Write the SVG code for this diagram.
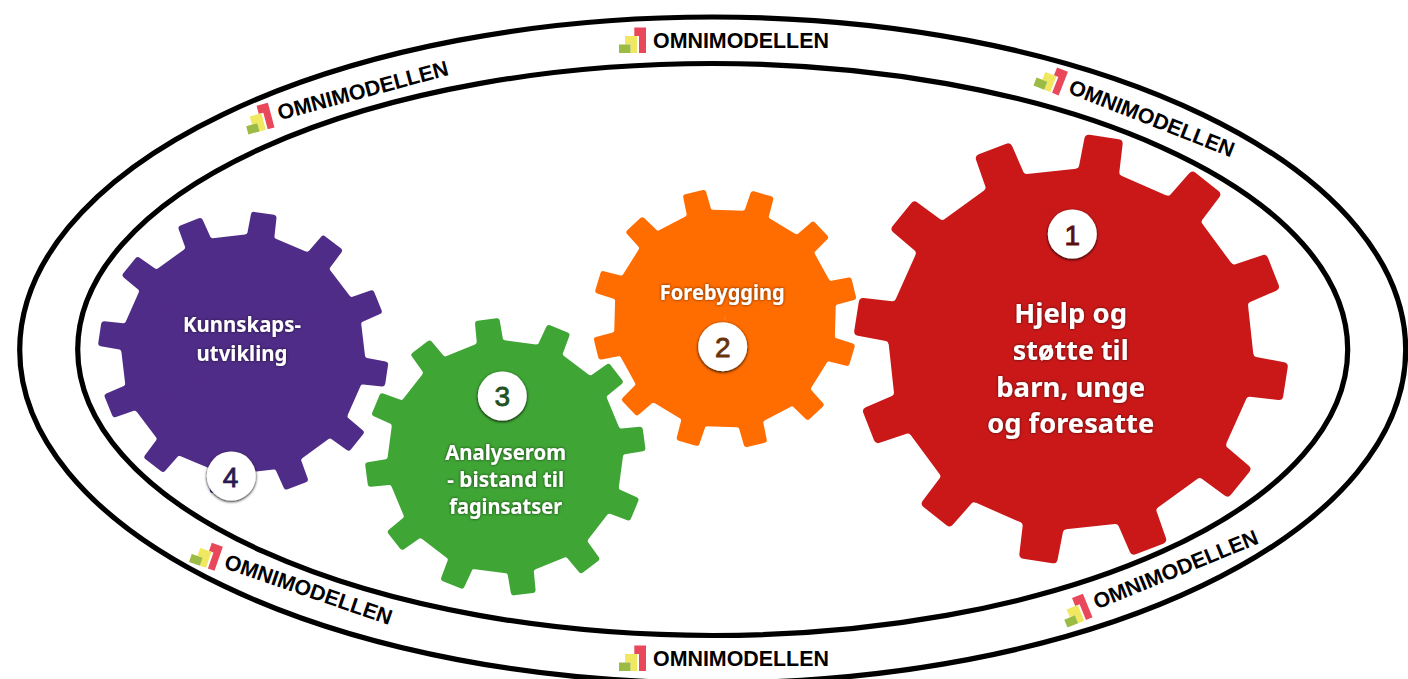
<svg xmlns="http://www.w3.org/2000/svg" width="1408" height="679" viewBox="0 0 1408 679">
<style>
.ring{fill:none;stroke:#000;stroke-width:5.2}
.om{font-family:"Liberation Sans",Arial,sans-serif;font-weight:700;font-size:21.4px;fill:#000}
.t{font-family:"Noto Sans",Lato,sans-serif;font-weight:700;fill:#fff;text-anchor:middle;filter:url(#glow)}
.c{fill:#fff;filter:url(#cs)}
.n{font-family:"Liberation Sans",Arial,sans-serif;font-size:28px;text-anchor:middle;stroke-width:.8}
</style>
<defs>
<filter id="glow" x="-20%" y="-30%" width="140%" height="160%"><feDropShadow dx="0" dy="0" stdDeviation="1.6" flood-color="#000" flood-opacity=".65"/></filter>
<filter id="cs" x="-30%" y="-30%" width="160%" height="160%"><feDropShadow dx="0" dy="1" stdDeviation="1.8" flood-color="#000" flood-opacity="1"/></filter>
<path id="tooth" d="M0 0L-10.6-83.4Q-9.5-83.7-9.4-84.9L-8.9-98Q-8.8-100-6.8-100L6.8-100Q8.8-100 8.9-98L9.4-84.9Q9.5-83.7 10.6-83.4L33.6-77.2L42-55Z"/>
<g id="gear">
<use href="#tooth"/><use href="#tooth" transform="rotate(30)"/><use href="#tooth" transform="rotate(60)"/><use href="#tooth" transform="rotate(90)"/><use href="#tooth" transform="rotate(120)"/><use href="#tooth" transform="rotate(150)"/><use href="#tooth" transform="rotate(180)"/><use href="#tooth" transform="rotate(210)"/><use href="#tooth" transform="rotate(240)"/><use href="#tooth" transform="rotate(270)"/><use href="#tooth" transform="rotate(300)"/><use href="#tooth" transform="rotate(330)"/>
</g>
<g id="logo">
<path fill="#E8485A" d="M15.3-25.5H27V0H20V-17H15.3Z"/>
<path fill="#EFE860" d="M6-17H18V0H11.5V-8.5H6Z"/>
<path fill="#9BBB45" d="M0-8.5H11.5V0H0Z"/>
</g>
</defs>
<rect width="1408" height="679" fill="#fff"/>
<g id="connectors">
<ellipse class="ring" cx="712.7" cy="350" rx="693" ry="333"/>
<ellipse class="ring" cx="712.7" cy="349.5" rx="635" ry="286"/>
</g>
<g id="label-top" transform="translate(619 53)"><use href="#logo"/><text class="om" x="34" y="-5.5">OMNIMODELLEN</text></g>
<g id="label-upper-left" transform="translate(248.4 134.4) rotate(-15)"><use href="#logo"/><text class="om" x="34" y="-5.5">OMNIMODELLEN</text></g>
<g id="label-upper-right" transform="translate(1033.5 85.5) rotate(21.5)"><use href="#logo"/><text class="om" x="34" y="-5.5">OMNIMODELLEN</text></g>
<g id="label-lower-left" transform="translate(189 562) rotate(19)"><use href="#logo"/><text class="om" x="34" y="-5.5">OMNIMODELLEN</text></g>
<g id="label-lower-right" transform="translate(1067.5 627.5) rotate(-22.2)"><use href="#logo"/><text class="om" x="34" y="-5.5">OMNIMODELLEN</text></g>
<g id="label-bottom" transform="translate(619 671)"><use href="#logo"/><text class="om" x="34" y="-5.5">OMNIMODELLEN</text></g>
<g id="gear-4">
<use href="#gear" fill="#4F2C87" transform="translate(243.2 353.8) scale(1.45 1.42) rotate(8.3)"/>
<text class="t" font-size="21" x="242" y="332.3" textLength="118" lengthAdjust="spacingAndGlyphs">Kunnskaps-</text>
<text class="t" font-size="21" x="242" y="360.7" textLength="91" lengthAdjust="spacingAndGlyphs">utvikling</text>
<circle class="c" cx="231.3" cy="476" r="24.5"/>
<text class="n" fill="#2A1A50" stroke="#2A1A50" x="230.5" y="487">4</text>
</g>
<g id="gear-3">
<use href="#gear" fill="#3FA535" transform="translate(505.3 456.8) scale(1.4 1.385) rotate(22.5)"/>
<text class="t" font-size="21" x="505.7" y="460" textLength="121" lengthAdjust="spacingAndGlyphs">Analyserom</text>
<text class="t" font-size="21" x="505.7" y="487.3" textLength="117" lengthAdjust="spacingAndGlyphs">- bistand til</text>
<text class="t" font-size="21" x="505.7" y="514" textLength="113" lengthAdjust="spacingAndGlyphs">faginsatser</text>
<circle class="c" cx="502.3" cy="396" r="24.5"/>
<text class="n" fill="#1F5020" stroke="#1F5020" x="502.3" y="406">3</text>
</g>
<g id="gear-2">
<use href="#gear" fill="#FF6C00" transform="translate(725 318.5) scale(1.325 1.3) rotate(16.5)"/>
<text class="t" font-size="21" x="722.3" y="300" textLength="125" lengthAdjust="spacingAndGlyphs">Forebygging</text>
<circle class="c" cx="722.7" cy="346.7" r="24.5"/>
<text class="n" fill="#6A3208" stroke="#6A3208" x="722.7" y="356.7">2</text>
</g>
<g id="gear-1">
<use href="#gear" fill="#CA1819" transform="translate(1071 349) scale(2.17 2.145) rotate(8.8)"/>
<text class="t" font-size="27" x="1070.7" y="322.7" textLength="113" lengthAdjust="spacingAndGlyphs">Hjelp og</text>
<text class="t" font-size="27" x="1070.7" y="360" textLength="116" lengthAdjust="spacingAndGlyphs">støtte til</text>
<text class="t" font-size="27" x="1070.7" y="396.7" textLength="149" lengthAdjust="spacingAndGlyphs">barn, unge</text>
<text class="t" font-size="27" x="1070.7" y="433" textLength="167" lengthAdjust="spacingAndGlyphs">og foresatte</text>
<circle class="c" cx="1072.3" cy="234" r="24.5"/>
<text class="n" fill="#5A0E10" stroke="#5A0E10" x="1072.3" y="245">1</text>
</g>
</svg>
